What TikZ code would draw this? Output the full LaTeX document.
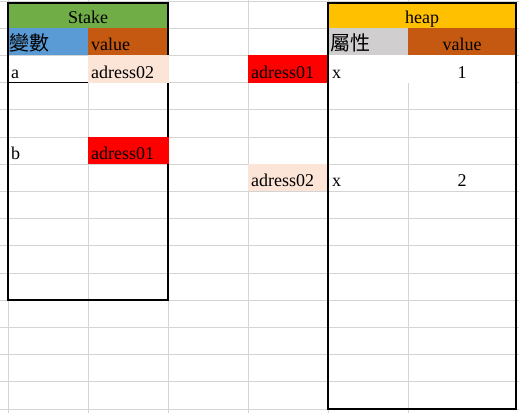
\documentclass[tikz,border=0pt]{standalone}
\usepackage{fontspec}
\setmainfont{Liberation Serif}
\newfontfamily\cjkfont{Noto Sans CJK TC}
\definecolor{gridc}{HTML}{D4D4D4}
\definecolor{stakegreen}{HTML}{70AD47}
\definecolor{varblue}{HTML}{5B9BD5}
\definecolor{valorange}{HTML}{C65911}
\definecolor{heapgold}{HTML}{FFC000}
\definecolor{propgray}{HTML}{D0CECE}
\definecolor{peach}{HTML}{FCE4D6}
\definecolor{cellred}{HTML}{FF0000}
\begin{document}
\begin{tikzpicture}[x=1pt,y=-1pt,
  gridline/.style={draw=gridc,line width=1pt},
  boxline/.style={draw=black,line width=2pt},
  txt/.style={inner sep=0pt,font=\fontsize{18}{18}\selectfont,text=black},
  cjktxt/.style={inner sep=0pt,font=\cjkfont\fontsize{20}{20}\selectfont,text=black}]
\useasboundingbox (0,0) rectangle (519,413);
\fill[white] (0,0) rectangle (519,413);
% spreadsheet grid
\foreach \k in {0,...,15} {
  \draw[gridline] (0,{1+27.2*\k}) -- (519,{1+27.2*\k});
}
\foreach \x in {8,88,168,248,328,408} {
  \draw[gridline] (\x,0) -- (\x,413);
}
% cells without gridlines
\fill[white] (329,55.4) rectangle (515,83.3);
\fill[white] (88.5,82) rectangle (167.5,83.3);
% stake table frame
\draw[boxline] (8,2.5) rectangle (168,300.2);
% heap table frame
\draw[boxline] (328,2.5) rectangle (516,409);
% header fills
\fill[stakegreen] (9,3.5) rectangle (167,28.2);
\fill[varblue] (9,28.2) rectangle (88,55.4);
\fill[valorange] (88,28.2) rectangle (167,55.4);
\fill[heapgold] (329,3.5) rectangle (515,28.2);
\fill[propgray] (329,28.2) rectangle (408,55.4);
\fill[valorange] (408,28.2) rectangle (515,55.4);
% value cells
\fill[peach] (87.5,55.4) rectangle (168.5,82.6);
\fill[cellred] (88,137) rectangle (168.5,164.2);
\fill[cellred] (248,55.4) rectangle (327,82.6);
\fill[peach] (248,164.2) rectangle (327,191.4);
% underline of cell a
\draw[black,line width=1pt] (8,82.6) -- (88,82.6);
% texts
\node[txt,anchor=base] (stake) at (88,23.2) {Stake};
\node[cjktxt,anchor=base west] (bianshu) at (9.5,50.6) {變數};
\node[txt,anchor=base west] (sval) at (91,50.6) {value};
\node[txt,anchor=base west] (va) at (11,78) {a};
\node[txt,anchor=base west] (vaval) at (91,78) {adress02};
\node[txt,anchor=base west] (vb) at (11,159.5) {b};
\node[txt,anchor=base west] (vbval) at (91,159.5) {adress01};
\node[txt,anchor=base west] (addr1) at (251,78) {adress01};
\node[txt,anchor=base west] (addr2) at (251,186.7) {adress02};
\node[txt,anchor=base] (heap) at (422,23.2) {heap};
\node[cjktxt,anchor=base west] (shuxing) at (330.5,50.6) {屬性};
\node[txt,anchor=base] (hval) at (462,50.6) {value};
\node[txt,anchor=base west] (x1) at (332,78) {x};
\node[txt,anchor=base] (one) at (462,78) {1};
\node[txt,anchor=base west] (x2) at (332,186.7) {x};
\node[txt,anchor=base] (two) at (462,186.7) {2};
\end{tikzpicture}
\end{document}
